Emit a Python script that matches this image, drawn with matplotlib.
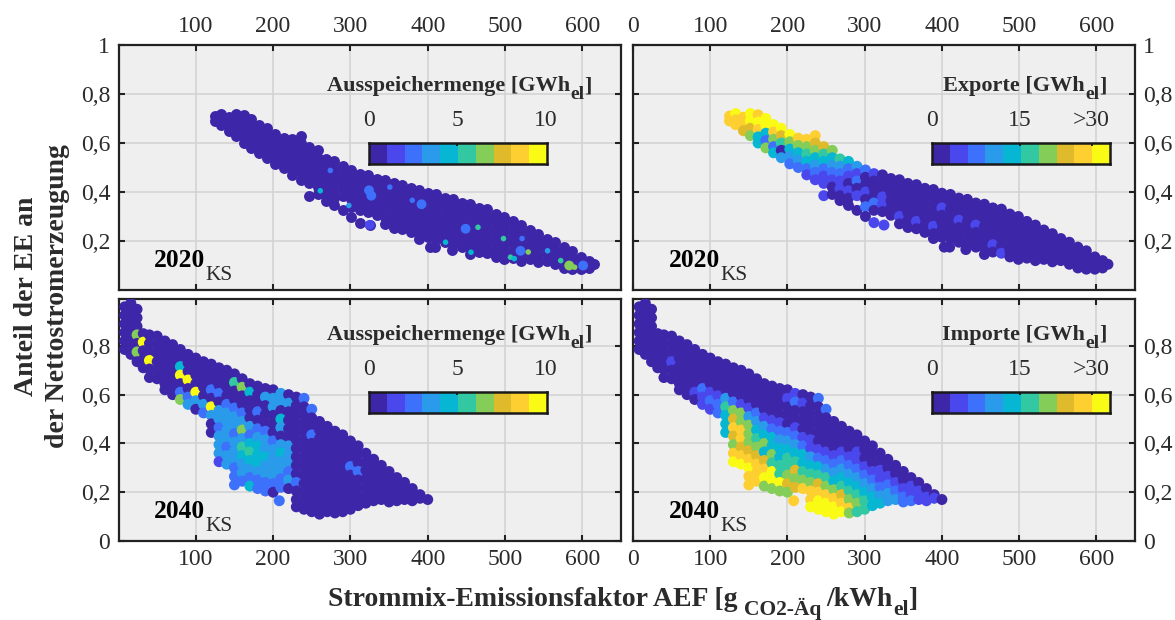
import numpy as np
import matplotlib
matplotlib.use("Agg")
import matplotlib.pyplot as plt
from matplotlib.colors import ListedColormap, BoundaryNorm

plt.rcParams['font.family'] = ['Liberation Serif', 'DejaVu Serif']

W, H = 1175, 620

# 2020 cloud: AEF, EE share and exports, one line per column of the cloud
aef_2020 = [
    125, 125,
    133, 133, 133,
    143, 143, 143,
    152, 152, 152, 152,
    162, 162, 162, 162, 162,
    172, 172, 172, 172, 172,
    182, 182, 182, 182, 182,
    192, 192, 192, 192, 192,
    203, 203, 203, 203, 203,
    214, 214, 214, 214, 214,
    225, 225, 225, 225, 225, 225,
    236, 236, 236, 236, 236, 236, 236,
    247, 247, 247, 247, 247, 247, 247,
    258, 258, 258, 258, 258, 258, 258,
    268, 268, 268, 268, 268, 268, 268,
    279, 279, 279, 279, 279, 279, 279,
    290, 290, 290, 290, 290, 290,
    301, 301, 301, 301, 301, 301, 301,
    312, 312, 312, 312, 312, 312, 312,
    323, 323, 323, 323, 323, 323, 325,
    334, 334, 334, 334, 334, 334,
    345, 345, 345, 345, 345, 345, 345,
    356, 356, 356, 356, 356, 356, 356,
    367, 367, 367, 367, 367, 367, 367,
    378, 378, 378, 378, 378, 378, 378,
    389, 389, 389, 389, 389, 389, 389, 389,
    400, 400, 400, 400, 400, 400, 400, 403,
    411, 411, 411, 411, 411, 411, 411, 410,
    422, 422, 422, 422, 422, 422, 422,
    433, 433, 433, 433, 433, 433, 433, 431,
    444, 444, 444, 444, 444, 444, 444,
    455, 455, 455, 455, 455, 455, 455, 455,
    466, 466, 466, 466, 466, 466, 466,
    477, 477, 477, 477, 477, 477, 477,
    488, 488, 488, 488, 488, 488, 488,
    499, 499, 499, 499, 499, 499, 499,
    510, 510, 510, 510, 510, 510,
    521, 521, 521, 521, 521, 521,
    532, 532, 532, 532, 532,
    543, 543, 543, 543, 543,
    554, 554, 554, 554,
    565, 565, 565, 565,
    576, 576, 576, 576,
    587, 587, 587, 587,
    598, 598, 598,
    608, 608, 608,
    615,
]
ee_2020 = [
    .71, .69,
    .72, .695, .675,
    .705, .675, .65,
    .72, .69, .66, .63,
    .715, .685, .655, .625, .60,
    .70, .67, .64, .61, .58,
    .675, .645, .615, .585, .56,
    .66, .63, .60, .57, .54,
    .635, .605, .575, .545, .515,
    .62, .59, .56, .53, .50,
    .615, .585, .555, .525, .495, .47,
    .63, .60, .57, .54, .51, .48, .45,
    .585, .555, .525, .495, .465, .435, .385,
    .57, .54, .51, .48, .45, .42, .39,
    .535, .505, .475, .445, .415, .385, .365,
    .525, .495, .465, .435, .405, .375, .345,
    .505, .475, .445, .415, .385, .325,
    .49, .46, .43, .40, .37, .34, .30,
    .475, .445, .415, .385, .355, .325, .275,
    .47, .44, .41, .38, .35, .32, .265,
    .455, .425, .395, .365, .335, .305,
    .45, .42, .39, .36, .33, .30, .27,
    .435, .405, .375, .345, .315, .285, .255,
    .43, .40, .37, .34, .31, .28, .25,
    .415, .385, .355, .325, .295, .265, .235,
    .41, .38, .35, .32, .29, .26, .23, .21,
    .395, .365, .335, .305, .275, .245, .215, .175,
    .39, .36, .33, .30, .27, .24, .21, .175,
    .375, .345, .315, .285, .255, .225, .195,
    .37, .34, .31, .28, .25, .22, .19, .165,
    .355, .325, .295, .265, .235, .205, .175,
    .35, .32, .29, .26, .23, .20, .17, .145,
    .335, .305, .275, .245, .215, .185, .155,
    .33, .30, .27, .24, .21, .18, .15,
    .31, .28, .25, .22, .19, .16, .135,
    .30, .27, .24, .21, .18, .15, .125,
    .28, .25, .22, .19, .16, .13,
    .265, .235, .205, .175, .145, .12,
    .245, .215, .185, .155, .125,
    .23, .20, .17, .14, .115,
    .21, .18, .15, .12,
    .195, .165, .135, .105,
    .175, .145, .115, .09,
    .16, .13, .10, .085,
    .135, .11, .085,
    .12, .10, .09,
    .105,
]
exporte_2020 = [
    26, 25,
    29, 25, 24,
    26, 25, 22,
    29, 29, 23, 20,
    26, 30, 25, 14, 12,
    30, 27, 14, 8, 19,
    30, 24, 18, 6, 12,
    30, 22, 17, 2, 9,
    28, 19, 14, 9, 7,
    26, 19, 13, 10, 6,
    25, 20, 16, 12, 8, 5,
    24, 22, 18, 13, 9, 6, 3,
    22, 17, 14, 8, 5, 3, 4,
    18, 13, 10, 6, 4, 2, 1,
    15, 11, 7, 3, 5, 1, 1,
    13, 8, 4, 2, 5, 1, 0,
    10, 4, 6, 2, 3, 0,
    6, 2, 0, 3, 0, 6, 0,
    3, 0, 1, 0, 7, 0, 4,
    0, 2, 0, 3, 5, 0, 3,
    0, 0, 2, 0, 0, 0,
    0, 0, 0, 2, 0, 3, 0,
    0, 0, 0, 0, 2, 0, 0,
    0, 0, 0, 0, 0, 3, 0,
    0, 0, 2, 0, 0, 0, 0,
    0, 0, 0, 0, 0, 3, 0, 0,
    0, 0, 3, 0, 0, 0, 0, 0,
    0, 0, 0, 0, 0, 0, 0, 0,
    0, 0, 0, 3, 0, 0, 0,
    0, 0, 0, 0, 0, 0, 0, 0,
    0, 0, 0, 3, 0, 0, 0,
    0, 0, 0, 0, 0, 0, 0, 0,
    0, 0, 0, 0, 0, 3, 0,
    0, 0, 0, 0, 0, 0, 3,
    0, 0, 0, 0, 0, 0, 0,
    0, 0, 0, 0, 0, 0, 0,
    0, 0, 0, 0, 0, 0,
    0, 0, 0, 0, 0, 0,
    0, 0, 0, 0, 0,
    0, 0, 0, 0, 0,
    0, 0, 0, 0,
    0, 0, 0, 0,
    0, 0, 0, 0,
    0, 0, 0, 0,
    0, 0, 0,
    0, 0, 0,
    0,
]
# the few 2020 hours with storage discharge above the first class
spk_aef_2020 = [261, 274, 298, 324, 327, 351, 380, 392, 423, 449, 456, 465,
                498, 507, 512, 520, 522, 530, 555, 572, 583, 590, 601, 325]
spk_ee_2020 = [.405, .488, .345, .407, .385, .42, .366, .35, .195, .25, .154, .256,
               .21, .134, .128, .16, .21, .155, .16, .12, .10, .093, .10, .266]
spk_val_2020 = [4, 2, 3, 2, 2, 2, 2, 2, 4, 2, 4, 5,
                5, 5, 4, 2, 2, 6, 3, 5, 6, 6, 2, 1]
spk_full_2020 = [0, 0, 0, 1, 1, 0, 0, 1, 0, 1, 0, 0,
                 0, 0, 0, 1, 0, 0, 0, 0, 1, 0, 1, 1]

# 2040 cloud: AEF, EE share, storage discharge and imports
aef_2040 = [
    8, 8, 8, 8, 8, 8,
    16, 16, 16, 16, 16, 16, 16,
    24, 24, 24, 24, 24, 24, 24,
    32, 32, 32, 32, 32,
    40, 40, 40, 40, 40, 40,
    50, 50, 50, 50, 50, 50,
    60, 60, 60, 60, 60, 60, 60,
    70, 70, 70, 70, 70, 70, 70,
    80, 80, 80, 80, 80, 80, 80,
    90, 90, 90, 90, 90, 90, 90,
    100, 100, 100, 100, 100, 100, 100,
    110, 110, 110, 110, 110, 110, 110,
    120, 120, 120, 120, 120, 120, 120, 120, 120,
    130, 130, 130, 130, 130, 130, 130, 130, 130, 130, 130, 130,
    140, 140, 140, 140, 140, 140, 140, 140, 140, 140, 140, 140,
    150, 150, 150, 150, 150, 150, 150, 150, 150, 150, 150, 150, 150, 150,
    160, 160, 160, 160, 160, 160, 160, 160, 160, 160, 160, 160, 160,
    170, 170, 170, 170, 170, 170, 170, 170, 170, 170, 170, 170, 170,
    180, 180, 180, 180, 180, 180, 180, 180, 180, 180, 180, 180, 180,
    190, 190, 190, 190, 190, 190, 190, 190, 190, 190, 190, 190, 190,
    200, 200, 200, 200, 200, 200, 200, 200, 200, 200, 200, 200, 200,
    210, 210, 210, 210, 210, 210, 210, 210, 210, 210, 210, 210, 208,
    220, 220, 220, 220, 220, 220, 220, 220, 220, 220, 220, 220,
    230, 230, 230, 230, 230, 230, 230, 230, 230, 230, 230, 230, 230, 230,
    240, 240, 240, 240, 240, 240, 240, 240, 240, 240, 240, 240, 240, 240,
    250, 250, 250, 250, 250, 250, 250, 250, 250, 250, 250, 250, 250,
    260, 260, 260, 260, 260, 260, 260, 260, 260, 260, 260, 260,
    270, 270, 270, 270, 270, 270, 270, 270, 270, 270, 270,
    280, 280, 280, 280, 280, 280, 280, 280, 280, 280, 280,
    290, 290, 290, 290, 290, 290, 290, 290, 290, 290,
    300, 300, 300, 300, 300, 300, 300, 300, 300,
    310, 310, 310, 310, 310, 310, 310, 310,
    320, 320, 320, 320, 320, 320, 320,
    330, 330, 330, 330, 330, 330,
    340, 340, 340, 340, 340,
    350, 350, 350, 350, 350,
    360, 360, 360, 360,
    370, 370, 370,
    380, 380, 380,
    390, 390,
    400,
]
ee_2040 = [
    .96, .925, .89, .855, .82, .785,
    .975, .94, .905, .87, .835, .80, .765,
    .95, .915, .88, .845, .81, .775, .735,
    .85, .815, .78, .745, .71,
    .845, .81, .775, .74, .705, .67,
    .84, .805, .77, .735, .70, .665,
    .82, .785, .75, .715, .68, .645, .62,
    .805, .77, .735, .70, .665, .63, .60,
    .785, .75, .715, .68, .645, .61, .58,
    .765, .73, .695, .66, .625, .59, .56,
    .75, .715, .68, .645, .61, .575, .54,
    .735, .70, .665, .63, .595, .56, .525,
    .725, .69, .655, .62, .585, .55, .515, .48, .445,
    .71, .675, .64, .605, .57, .535, .50, .465, .43, .395, .36, .325,
    .70, .665, .63, .595, .56, .525, .49, .455, .42, .385, .35, .315,
    .685, .65, .615, .58, .545, .51, .475, .44, .405, .37, .335, .30, .265, .23,
    .665, .63, .595, .56, .525, .49, .455, .42, .385, .35, .315, .28, .245,
    .645, .61, .575, .54, .505, .47, .435, .40, .365, .33, .295, .26, .225,
    .635, .60, .565, .53, .495, .46, .425, .39, .355, .32, .285, .25, .215,
    .625, .59, .555, .52, .485, .45, .415, .38, .345, .31, .275, .24, .205,
    .62, .585, .55, .515, .48, .445, .41, .375, .34, .305, .27, .235, .20,
    .605, .57, .535, .50, .465, .43, .395, .36, .325, .29, .255, .22, .165,
    .60, .565, .53, .495, .46, .425, .39, .355, .32, .285, .25, .215,
    .59, .555, .52, .485, .45, .415, .38, .345, .31, .275, .24, .205, .17, .14,
    .585, .55, .515, .48, .445, .41, .375, .34, .305, .27, .235, .20, .165, .13,
    .54, .505, .47, .435, .40, .365, .33, .295, .26, .225, .19, .155, .12,
    .49, .455, .42, .385, .35, .315, .28, .245, .21, .175, .14, .11,
    .47, .435, .40, .365, .33, .295, .26, .225, .19, .155, .12,
    .45, .415, .38, .345, .31, .275, .24, .205, .17, .135, .115,
    .435, .40, .365, .33, .295, .26, .225, .19, .155, .12,
    .41, .375, .34, .305, .27, .235, .20, .165, .13,
    .39, .355, .32, .285, .25, .215, .18, .145,
    .36, .325, .29, .255, .22, .185, .155,
    .335, .30, .265, .23, .195, .165,
    .31, .275, .24, .205, .17,
    .285, .25, .215, .18, .16,
    .26, .225, .19, .165,
    .24, .205, .17,
    .215, .18, .165,
    .19, .175,
    .17,
]
speicher_2040 = [
    0, 0, 0, 0, 0, 0,
    0, 0, 0, 0, 0, 0, 0,
    0, 0, 0, 6, 0, 6, 0,
    0, 10, 0, 0, 0,
    0, 0, 0, 10, 0, 0,
    0, 0, 0, 0, 0, 0,
    0, 0, 0, 0, 0, 0, 0,
    0, 0, 0, 0, 0, 0, 0,
    0, 0, 4, 10, 0, 2, 6,
    0, 0, 0, 10, 0, 2, 3,
    0, 0, 0, 0, 10, 3, 0,
    0, 0, 0, 0, 0, 3, 2,
    0, 0, 0, 2, 0, 10, 3, 0, 0,
    0, 0, 0, 2, 0, 3, 3, 2, 3, 3, 3, 1,
    0, 0, 0, 0, 2, 3, 3, 3, 3, 2, 3, 3,
    0, 5, 0, 0, 2, 3, 3, 2, 3, 3, 3, 2, 2, 2,
    0, 6, 0, 0, 2, 3, 6, 3, 5, 4, 3, 3, 2,
    0, 4, 0, 0, 0, 3, 2, 4, 5, 4, 3, 2, 4,
    0, 0, 0, 2, 0, 2, 3, 4, 4, 4, 3, 2, 2,
    0, 3, 0, 0, 0, 2, 3, 3, 4, 3, 3, 2, 2,
    0, 3, 3, 0, 0, 0, 2, 3, 3, 3, 3, 2, 0,
    3, 3, 0, 4, 3, 0, 3, 4, 3, 3, 2, 2, 2,
    0, 3, 0, 0, 0, 0, 3, 3, 3, 2, 3, 0,
    0, 0, 0, 0, 0, 0, 0, 0, 0, 0, 2, 0, 0, 0,
    2, 0, 0, 0, 0, 0, 0, 0, 0, 0, 0, 0, 0, 0,
    2, 0, 0, 2, 0, 0, 0, 0, 0, 0, 0, 0, 0,
    0, 0, 0, 0, 0, 0, 0, 0, 0, 0, 0, 0,
    0, 0, 0, 0, 0, 0, 0, 0, 0, 0, 0,
    0, 0, 0, 0, 0, 0, 0, 0, 0, 0, 0,
    0, 0, 0, 0, 0, 0, 0, 0, 0, 0,
    0, 0, 0, 2, 0, 0, 0, 0, 0,
    0, 0, 0, 2, 0, 0, 0, 0,
    0, 0, 0, 0, 0, 0, 0,
    0, 0, 0, 0, 0, 0,
    0, 0, 0, 0, 0,
    0, 0, 0, 0, 0,
    0, 0, 0, 0,
    0, 0, 0,
    0, 0, 0,
    0, 0,
    0,
]
importe_2040 = [
    0, 0, 0, 0, 0, 0,
    0, 0, 0, 0, 0, 0, 0,
    0, 0, 0, 0, 0, 0, 0,
    0, 0, 0, 0, 0,
    0, 0, 0, 0, 0, 0,
    0, 0, 0, 4, 0, 0,
    0, 0, 0, 0, 0, 0, 0,
    0, 0, 0, 0, 0, 0, 0,
    0, 0, 0, 0, 0, 3, 0,
    0, 0, 0, 0, 6, 3, 3,
    0, 0, 0, 0, 3, 6, 3,
    0, 0, 0, 0, 3, 6, 6,
    0, 0, 0, 0, 10, 16, 14, 14, 12,
    0, 0, 0, 0, 6, 19, 22, 25, 23, 19, 24, 28,
    0, 0, 0, 0, 3, 20, 18, 25, 24, 22, 24, 29,
    0, 0, 0, 0, 3, 10, 18, 20, 19, 22, 25, 28, 26, 26,
    0, 0, 0, 0, 6, 9, 14, 17, 19, 23, 26, 25, 24,
    0, 0, 0, 0, 3, 9, 13, 18, 14, 21, 24, 28, 20,
    0, 0, 0, 0, 3, 6, 12, 14, 18, 15, 27, 29, 19,
    0, 0, 0, 0, 3, 6, 9, 13, 14, 17, 16, 28, 19,
    0, 3, 0, 0, 0, 6, 9, 13, 17, 15, 20, 21, 18,
    3, 6, 0, 0, 3, 6, 10, 13, 15, 21, 18, 22, 25,
    0, 3, 0, 0, 0, 3, 7, 12, 14, 16, 19, 24,
    0, 0, 0, 0, 0, 3, 4, 9, 13, 16, 20, 24, 26, 29,
    6, 0, 0, 0, 0, 0, 3, 7, 12, 17, 21, 25, 27, 29,
    6, 0, 0, 0, 0, 3, 7, 11, 15, 20, 24, 27, 29,
    0, 0, 0, 0, 3, 6, 9, 14, 19, 24, 27, 29,
    0, 0, 0, 3, 6, 9, 13, 17, 21, 25, 28,
    0, 0, 0, 3, 6, 9, 13, 16, 20, 24, 18,
    0, 0, 3, 3, 6, 10, 13, 16, 19, 17,
    0, 0, 0, 3, 6, 9, 12, 15, 16,
    0, 0, 0, 3, 6, 10, 12, 14,
    0, 0, 3, 3, 7, 10, 12,
    0, 0, 3, 6, 9, 10,
    0, 0, 3, 6, 9,
    0, 0, 3, 6, 7,
    0, 3, 4, 6,
    0, 3, 4,
    0, 3, 3,
    0, 3,
    0,
]

class_colors = ['#3e26a8', '#4a48ec', '#3d70fb', '#2a9aea', '#06b6d3',
                '#31c8a2', '#84cd58', '#dfbb2b', '#fecf31', '#f9fb15']
xticks = [100, 200, 300, 400, 500, 600]
xticks_right = [0, 100, 200, 300, 400, 500, 600]
yticks_top = [.2, .4, .6, .8, 1]
yticks_bottom = [0, .2, .4, .6, .8]

cmap = ListedColormap(class_colors)
TXT = '#2b2b2b'
EDGE = '#222222'


def ylab(v):
    return f'{v:g}'.replace('.', ',')


def add_axes_px(fig, left, top, right, bottom):
    return fig.add_axes([left / W, 1 - bottom / H, (right - left) / W, (bottom - top) / H])


def px_text(fig, x, y, s, **kw):
    # y is measured from the top of the picture, text sits on its baseline
    kw.setdefault('color', TXT)
    kw.setdefault('va', 'baseline')
    fig.text(x / W, 1 - y / H, s, **kw)


def setup_panel(ax, yticks, ymax, left, top, xt):
    ax.set_facecolor('#efefef')
    ax.set_xlim(0, 650)
    ax.set_ylim(0, ymax)
    ax.set_xticks(xt)
    ax.set_yticks(yticks)
    ax.set_yticklabels([ylab(v) for v in yticks])
    ax.grid(True, color='#d2d2d2', lw=1.1)
    ax.set_axisbelow(True)
    ax.tick_params(direction='in', length=4, width=1.5, color=EDGE, labelsize=17,
                   labelcolor=TXT, top=True, bottom=True, left=True, right=True,
                   labeltop=top, labelbottom=not top, labelleft=left,
                   labelright=not left, pad=6)
    for sp in ax.spines.values():
        sp.set_linewidth(1.6)
        sp.set_color(EDGE)


def colour_bar(fig, x0, y0, labels, marks):
    cax = add_axes_px(fig, x0, y0, x0 + 178, y0 + 21)
    cax.imshow(np.arange(10).reshape(1, 10), cmap=cmap, aspect='auto', extent=[0, 10, 0, 1])
    cax.set_xticks(marks)
    cax.set_xticklabels([])
    cax.set_yticks([])
    cax.tick_params(axis='x', direction='in', top=True, bottom=False, length=2, width=1.2)
    for sp in cax.spines.values():
        sp.set_linewidth(1.8)
        sp.set_color('#1a1a1a')
    for x, s in labels:
        px_text(fig, x, y0 - 17, s, ha='center', fontsize=17)


def title_px(fig, x_end, base, s):
    px_text(fig, x_end, base, s, ha='right', fontsize=16, fontweight='bold')
    px_text(fig, x_end, base + 8, 'el', ha='left', fontsize=14, fontweight='bold')
    px_text(fig, x_end + 14, base, ']', ha='left', fontsize=16, fontweight='bold')


def year_px(fig, x, base, s):
    px_text(fig, x, base, s, color='black', fontsize=18.4, fontweight='bold')
    px_text(fig, x + 51, base + 13, 'KS', color=TXT, fontsize=15.4)


fig = plt.figure(figsize=(W / 100, H / 100), dpi=100)

ax_a = add_axes_px(fig, 118.5, 45, 621, 290)
ax_b = add_axes_px(fig, 633, 45, 1135, 290)
ax_c = add_axes_px(fig, 118.5, 299, 621, 541)
ax_d = add_axes_px(fig, 633, 299, 1135, 541)

setup_panel(ax_a, yticks_top, 1, True, True, xticks)
setup_panel(ax_b, yticks_top, 1, False, True, xticks_right)
setup_panel(ax_c, yticks_bottom, .992, True, False, xticks)
setup_panel(ax_d, yticks_bottom, .992, False, False, xticks_right)

MS = 62
norm10 = BoundaryNorm(np.arange(0, 11), 10)
norm30 = BoundaryNorm(np.arange(0, 31, 3), 10)

# 2020 Ausspeichermenge: dark cloud, a few lighter hours on top
ax_a.scatter(aef_2020, ee_2020, s=MS, color=class_colors[0], lw=0, zorder=3)
spk_size = [50 if f else 16 for f in spk_full_2020]
ax_a.scatter(spk_aef_2020, spk_ee_2020, s=spk_size, c=spk_val_2020, cmap=cmap, norm=norm10,
             lw=0, zorder=4)

# 2020 Exporte
ax_b.scatter(aef_2020, ee_2020, s=MS, c=exporte_2020, cmap=cmap, norm=norm30, lw=0, zorder=3)

# 2040 panels
ax_c.scatter(aef_2040, ee_2040, s=MS, c=speicher_2040, cmap=cmap, norm=norm10, lw=0, zorder=3)
ax_d.scatter(aef_2040, ee_2040, s=MS, c=importe_2040, cmap=cmap, norm=norm30, lw=0, zorder=3)

# inset scales
colour_bar(fig, 369, 143, [(369, '0'), (457, '5'), (546, '10')], [4.94])
colour_bar(fig, 932, 143, [(932, '0'), (1020, '15'), (1091, '>30')], [4.94, 9.0])
colour_bar(fig, 369, 392, [(369, '0'), (457, '5'), (546, '10')], [4.94])
colour_bar(fig, 932, 392, [(932, '0'), (1020, '15'), (1091, '>30')], [4.94, 9.0])

title_px(fig, 570, 91, 'Ausspeichermenge [GWh')
title_px(fig, 1085, 91, 'Exporte [GWh')
title_px(fig, 570, 340, 'Ausspeichermenge [GWh')
title_px(fig, 1085, 340, 'Importe [GWh')

year_px(fig, 154, 267, '2020')
year_px(fig, 669, 267, '2020')
year_px(fig, 154, 518, '2040')
year_px(fig, 669, 518, '2040')

# axis titles
px_text(fig, 738, 606, 'Strommix-Emissionsfaktor AEF [g', ha='right', fontsize=20, fontweight='bold')
px_text(fig, 744, 615, 'CO2-Äq', ha='left', fontsize=15.5, fontweight='bold')
px_text(fig, 826, 606, '/kWh', ha='left', fontsize=20, fontweight='bold')
px_text(fig, 893, 615, 'el', ha='left', fontsize=15.5, fontweight='bold')
px_text(fig, 909, 606, ']', ha='left', fontsize=20, fontweight='bold')

fig.text(27 / W, 1 - 296 / H, 'Anteil der EE an', rotation=90, ha='center', va='center',
         fontsize=20, fontweight='bold', color=TXT)
fig.text(57 / W, 1 - 296 / H, 'der Nettostromerzeugung', rotation=90, ha='center', va='center',
         fontsize=20, fontweight='bold', color=TXT)

fig.savefig('out.png', dpi=100)
